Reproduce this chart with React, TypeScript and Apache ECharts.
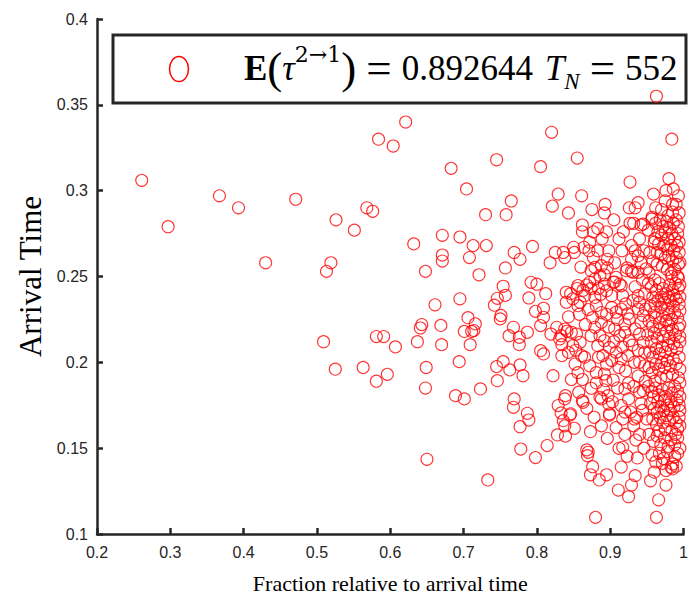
import React, { useEffect, useRef } from "react";
import * as echarts from "echarts";

// x < 0.70
const pointsLeft: number[][] = [
  [0.261,0.306],[0.297,0.279],[0.367,0.297],[0.393,0.290],[0.430,0.258],[0.471,0.295],
  [0.509,0.212],[0.513,0.253],[0.519,0.258],[0.525,0.196],[0.526,0.283],[0.551,0.277],
  [0.563,0.197],[0.568,0.290],[0.576,0.288],[0.581,0.215],[0.581,0.189],[0.584,0.330],
  [0.591,0.215],[0.596,0.193],[0.604,0.326],[0.607,0.209],[0.621,0.340],[0.632,0.269],
  [0.637,0.212],[0.641,0.220],[0.643,0.222],[0.648,0.253],[0.648,0.185],[0.649,0.197],
  [0.650,0.1435],[0.661,0.2335],[0.669,0.2215],[0.670,0.2103],[0.671,0.274],[0.671,0.2625],
  [0.671,0.259],[0.683,0.313],[0.689,0.1806],[0.694,0.2004],[0.695,0.273],[0.695,0.237],
];

// 0.70 - 0.80
const pointsMid: number[][] = [
  [0.704,0.301],[0.708,0.261],[0.713,0.268],[0.721,0.251],[0.730,0.286],[0.731,0.268],
  [0.745,0.318],[0.758,0.286],[0.765,0.294],[0.757,0.255],[0.769,0.264],[0.777,0.260],
  [0.794,0.2675],[0.706,0.226],[0.701,0.218],[0.711,0.218],[0.716,0.2224],[0.714,0.2185],
  [0.709,0.2103],[0.701,0.1787],[0.723,0.1845],[0.733,0.1315],[0.754,0.2443],[0.757,0.239],
  [0.746,0.2373],[0.742,0.2333],[0.751,0.2273],[0.750,0.2253],[0.745,0.1975],[0.746,0.1893],
  [0.754,0.2004],[0.763,0.1956],[0.777,0.1985],[0.781,0.1922],[0.768,0.2204],[0.762,0.2155],
  [0.776,0.2146],[0.776,0.2103],[0.787,0.2175],[0.769,0.1787],[0.768,0.1738],[0.787,0.1703],
  [0.789,0.1664],[0.777,0.1625],[0.778,0.1495],[0.798,0.1445],[0.792,0.2466],[0.800,0.2455],
  [0.789,0.2375],[0.798,0.2297],
];

// 0.80 - 0.85
const points80: number[][] = [
  [0.805,0.314],[0.820,0.334],[0.829,0.298],[0.821,0.291],[0.843,0.287],[0.818,0.258],
  [0.825,0.264],[0.836,0.264],[0.838,0.261],[0.812,0.240],[0.809,0.2315],[0.809,0.2262],
  [0.840,0.2408],[0.840,0.235],[0.846,0.240],[0.843,0.2265],[0.805,0.2214],[0.805,0.2068],
  [0.809,0.2049],[0.822,0.1922],[0.827,0.2204],[0.819,0.2165],[0.833,0.2155],[0.831,0.2136],
  [0.834,0.2103],[0.841,0.2181],[0.838,0.2194],[0.847,0.2175],[0.849,0.2097],[0.843,0.2058],
  [0.834,0.2039],[0.828,0.1577],[0.839,0.157],[0.838,0.163],[0.836,0.166],[0.833,0.1705],
  [0.846,0.170],[0.838,0.1787],[0.839,0.1806],[0.814,0.1515],[0.829,0.1748],[0.845,0.1693],
  [0.847,0.190],
];

// 0.85 - 0.90
const points85: number[][] = [
  [0.855,0.319],[0.861,0.297],[0.875,0.289],[0.893,0.292],[0.892,0.287],[0.862,0.280],
  [0.862,0.276],[0.877,0.276],[0.883,0.278],[0.895,0.276],[0.889,0.272],[0.864,0.267],
  [0.850,0.267],[0.851,0.264],[0.871,0.265],[0.883,0.265],[0.877,0.261],[0.896,0.260],
  [0.896,0.255],[0.872,0.270],[0.879,0.2553],[0.888,0.2563],[0.874,0.2534],[0.886,0.2505],
  [0.879,0.2485],[0.872,0.2466],[0.855,0.243],[0.868,0.245],[0.863,0.242],[0.874,0.243],
  [0.856,0.2447],[0.849,0.237],[0.856,0.233],[0.859,0.235],[0.865,0.2388],[0.870,0.2307],
  [0.879,0.2378],[0.887,0.2396],[0.895,0.2417],[0.892,0.2456],[0.881,0.233],[0.888,0.229],
  [0.895,0.228],[0.888,0.2233],[0.854,0.2165],[0.859,0.2117],[0.861,0.2039],[0.852,0.199],
  [0.872,0.198],[0.865,0.203],[0.874,0.2155],[0.879,0.2204],[0.886,0.2155],[0.892,0.2126],
  [0.883,0.2097],[0.899,0.2087],[0.890,0.2039],[0.857,0.1826],[0.863,0.1767],[0.868,0.1732],
  [0.874,0.1849],[0.881,0.188],[0.886,0.1796],[0.897,0.1806],[0.898,0.1757],[0.899,0.1693],
  [0.892,0.1932],[0.894,0.1893],[0.873,0.1596],[0.896,0.1557],[0.869,0.1456],[0.870,0.1476],
  [0.868,0.149],[0.873,0.1345],[0.885,0.1315],[0.895,0.1345],[0.876,0.1392],[0.880,0.1097],
  [0.851,0.1616],[0.862,0.1777],[0.888,0.1787],[0.899,0.170],[0.856,0.194],[0.881,0.194],
  [0.895,0.199],[0.858,0.228],[0.866,0.222],[0.876,0.226],[0.884,0.243],[0.860,0.2555],
  [0.892,0.251],[0.898,0.265],[0.898,0.2205],[0.884,0.203],[0.891,0.184],[0.878,0.168],
  [0.888,0.163],[0.862,0.190],[0.853,0.207],
];

// 0.90 - 0.95
const points90: number[][] = [
  [0.927,0.305],[0.926,0.290],[0.934,0.290],[0.938,0.293],[0.916,0.265],[0.929,0.268],
  [0.934,0.265],[0.929,0.260],[0.929,0.253],[0.923,0.255],[0.927,0.281],[0.932,0.281],
  [0.942,0.280],[0.945,0.2805],[0.938,0.262],[0.922,0.2534],[0.931,0.2524],[0.938,0.2524],
  [0.942,0.258],[0.902,0.2388],[0.906,0.2468],[0.915,0.2446],[0.904,0.2466],[0.908,0.2495],
  [0.913,0.2456],[0.917,0.2388],[0.908,0.2292],[0.915,0.231],[0.924,0.2282],[0.920,0.2223],
  [0.926,0.2253],[0.938,0.2388],[0.940,0.235],[0.947,0.240],[0.938,0.231],[0.945,0.2272],
  [0.902,0.232],[0.906,0.2194],[0.913,0.2155],[0.920,0.2175],[0.926,0.2126],[0.908,0.2058],
  [0.915,0.202],[0.924,0.2039],[0.933,0.200],[0.940,0.2165],[0.945,0.2117],[0.940,0.200],
  [0.942,0.2233],[0.947,0.2058],[0.902,0.201],[0.912,0.197],[0.920,0.1845],[0.925,0.188],
  [0.925,0.1787],[0.928,0.171],[0.933,0.167],[0.932,0.163],[0.936,0.168],[0.940,0.1826],
  [0.945,0.1835],[0.950,0.167],[0.904,0.1897],[0.915,0.1748],[0.920,0.171],[0.917,0.167],
  [0.935,0.1547],[0.912,0.1499],[0.923,0.1453],[0.937,0.1443],[0.911,0.1256],[0.925,0.1217],
  [0.929,0.1285],[0.917,0.1505],[0.921,0.195],[0.938,0.192],[0.947,0.198],
  [0.906,0.258],[0.912,0.272],[0.918,0.276],[0.905,0.283],[0.940,0.272],[0.946,0.265],
  [0.944,0.248],[0.934,0.244],[0.921,0.234],[0.931,0.236],[0.910,0.225],[0.934,0.2195],
  [0.930,0.210],[0.917,0.209],[0.938,0.207],[0.905,0.212],[0.910,0.185],[0.932,0.186],
  [0.942,0.176],[0.908,0.162],[0.940,0.158],[0.946,0.150],[0.915,0.139],[0.934,0.134],
  [0.944,0.172],[0.920,0.158],[0.948,0.189],[0.903,0.177],[0.948,0.231],[0.949,0.2545],
];

// 0.95 - 1.00
const points95: number[][] = [
  [0.963,0.355],[0.984,0.330],[0.980,0.307],[0.986,0.301],[0.976,0.300],[0.959,0.298],
  [0.985,0.292],[0.985,0.2875],[0.979,0.2855],[0.957,0.2845],[0.952,0.277],[0.957,0.2835],
  [0.954,0.264],[0.964,0.264],[0.960,0.270],[0.963,0.1097],[0.966,0.1199],[0.976,0.1285],
  [0.985,0.1408],[0.983,0.1389],[0.985,0.1379],[0.971,0.1412],
  [0.962,0.281],[0.968,0.283],[0.972,0.279],[0.977,0.282],[0.981,0.278],[0.986,0.281],
  [0.990,0.283],[0.993,0.279],[0.965,0.276],[0.970,0.274],[0.975,0.276],[0.979,0.272],
  [0.984,0.275],[0.988,0.272],[0.992,0.275],[0.994,0.270],[0.961,0.272],[0.966,0.269],
  [0.973,0.268],[0.978,0.266],[0.983,0.268],[0.987,0.265],[0.991,0.268],[0.994,0.264],
  [0.969,0.263],[0.975,0.261],[0.980,0.262],[0.985,0.259],[0.990,0.261],[0.993,0.257],
  [0.958,0.259],[0.964,0.257],[0.971,0.256],[0.978,0.254],[0.983,0.252],[0.988,0.254],
  [0.992,0.250],[0.994,0.287],[0.990,0.292],[0.970,0.289],[0.962,0.290],[0.993,0.297],
  [0.975,0.294],[0.953,0.252],[0.961,0.248],[0.956,0.244],
  [0.952,0.246],[0.958,0.238],[0.963,0.242],[0.967,0.246],[0.972,0.243],[0.976,0.240],
  [0.981,0.245],[0.985,0.242],[0.989,0.246],[0.993,0.243],[0.955,0.233],[0.960,0.229],
  [0.965,0.236],[0.969,0.232],[0.974,0.235],[0.978,0.231],[0.982,0.236],[0.986,0.233],
  [0.990,0.237],[0.994,0.234],[0.953,0.224],[0.958,0.221],[0.962,0.226],[0.967,0.223],
  [0.971,0.227],[0.976,0.224],[0.980,0.228],[0.984,0.225],[0.988,0.229],[0.992,0.226],
  [0.995,0.230],[0.970,0.238],[0.979,0.238],[0.987,0.239],[0.961,0.234],[0.993,0.249],
  [0.951,0.216],[0.956,0.212],[0.960,0.217],[0.964,0.214],[0.968,0.219],[0.972,0.215],
  [0.977,0.218],[0.981,0.214],[0.985,0.219],[0.989,0.216],[0.993,0.220],[0.954,0.206],
  [0.958,0.203],[0.963,0.208],[0.967,0.205],[0.971,0.209],[0.975,0.206],[0.979,0.210],
  [0.983,0.207],[0.987,0.211],[0.991,0.208],[0.995,0.212],[0.953,0.197],[0.957,0.194],
  [0.962,0.199],[0.966,0.196],[0.970,0.200],[0.974,0.197],[0.978,0.201],[0.982,0.198],
  [0.986,0.202],[0.990,0.199],[0.994,0.203],[0.969,0.191],[0.977,0.192],[0.985,0.193],
  [0.993,0.191],[0.961,0.189],
  [0.952,0.186],[0.957,0.183],[0.962,0.185],[0.966,0.181],[0.971,0.184],[0.975,0.180],
  [0.980,0.185],[0.984,0.182],[0.988,0.186],[0.992,0.183],[0.955,0.176],[0.960,0.173],
  [0.965,0.177],[0.969,0.174],[0.974,0.178],[0.978,0.175],[0.983,0.177],[0.987,0.174],
  [0.991,0.178],[0.994,0.175],[0.958,0.167],[0.963,0.164],[0.968,0.168],[0.972,0.165],
  [0.977,0.169],[0.981,0.166],[0.986,0.168],[0.990,0.165],[0.994,0.168],[0.966,0.160],
  [0.975,0.161],[0.984,0.160],[0.992,0.161],
  [0.953,0.158],[0.959,0.154],[0.964,0.157],[0.969,0.152],[0.974,0.156],[0.979,0.151],
  [0.983,0.155],[0.988,0.152],[0.992,0.156],[0.957,0.146],[0.962,0.142],[0.967,0.147],
  [0.973,0.144],[0.978,0.148],[0.988,0.145],[0.992,0.147],[0.960,0.136],[0.976,0.137],
  [0.990,0.1395],[0.955,0.131],
  [0.995,0.258],[0.995,0.245],[0.995,0.238],[0.995,0.222],[0.995,0.215],[0.995,0.196],
  [0.995,0.188],[0.995,0.180],[0.995,0.172],[0.995,0.163],[0.995,0.150],[0.989,0.158],
  [0.982,0.172],[0.973,0.172],[0.964,0.171],[0.959,0.180],[0.980,0.222],[0.984,0.250],
];

const xTicks = { min: 0.2, max: 1, interval: 0.1 };
const yTicks = { min: 0.1, max: 0.4, interval: 0.05 };
const xTitle = "Fraction relative to arrival time";
const yTitle = "Arrival Time";
const meanValue = "0.892644";
const countValue = "552";

export default function App() {
  const ref = useRef<HTMLDivElement>(null);
  useEffect(() => {
    if (!ref.current) return;
    const chart = echarts.init(ref.current, undefined, { renderer: "svg" });
    const data = [...pointsLeft, ...pointsMid, ...points80, ...points85, ...points90, ...points95];
    const axisColor = "#262626";
    const axisCommon = {
      type: "value" as const,
      axisLine: { show: true, lineStyle: { color: axisColor, width: 2.5 } },
      axisTick: { show: true, inside: true, length: 6, lineStyle: { color: axisColor, width: 2.5 } },
      axisLabel: { fontFamily: "Liberation Sans", fontSize: 16, color: axisColor },
      splitLine: { show: false },
    };
    const serif = "Liberation Serif";
    const nb = "\u00A0";
    chart.setOption({
      animation: false,
      backgroundColor: "#ffffff",
      grid: { left: 97, right: 5, top: 19, bottom: 64, containLabel: false },
      xAxis: {
        ...axisCommon,
        ...xTicks,
        axisLabel: { ...axisCommon.axisLabel, margin: 10 },
        name: xTitle,
        nameLocation: "middle",
        nameGap: 38,
        nameTextStyle: { fontFamily: serif, fontSize: 22, color: "#000" },
      },
      yAxis: {
        ...axisCommon,
        ...yTicks,
        axisLabel: { ...axisCommon.axisLabel, margin: 9 },
        name: yTitle,
        nameLocation: "middle",
        nameGap: 48,
        nameTextStyle: { fontFamily: serif, fontSize: 31, color: "#000" },
      },
      series: [
        {
          type: "scatter",
          data,
          symbol: "circle",
          symbolSize: 12,
          itemStyle: { color: "rgba(0,0,0,0)", borderColor: "#ff0000", borderWidth: 1.1 },
          z: 5,
        },
      ],
      graphic: [
        {
          type: "rect",
          z: 1,
          shape: { x: 113, y: 35, width: 573, height: 68 },
          style: { fill: "none", stroke: "#262626", lineWidth: 3 },
        },
        {
          type: "ellipse",
          z: 2,
          shape: { cx: 179, cy: 69, rx: 9.5, ry: 12.5 },
          style: { fill: "none", stroke: "#ff0000", lineWidth: 1.5 },
        },
        {
          type: "text",
          z: 2,
          x: 244,
          y: 68,
          style: {
            text: `{b|E}{p|(}{i|τ}{sup|2→1}{p|)}{sp|${nb}}{eq|=}{sp|${nb}}{n|${meanValue}}{sp2|${nb}}{it|T}{sub|N}{sp|${nb}}{eq|=}{sp|${nb}}{n|${countValue}}`,
            align: "left",
            verticalAlign: "middle",
            fill: "#000",
            rich: {
              b: { fontFamily: serif, fontWeight: "bold", fontSize: 35, lineHeight: 50, fill: "#000" },
              p: { fontFamily: serif, fontSize: 45, lineHeight: 50, fill: "#000" },
              i: { fontFamily: serif, fontStyle: "italic", fontSize: 35, lineHeight: 50, fill: "#000" },
              it: { fontFamily: serif, fontStyle: "italic", fontSize: 35, lineHeight: 50, fill: "#000" },
              n: { fontFamily: serif, fontSize: 35, lineHeight: 50, fill: "#000" },
              sp: { fontFamily: serif, fontSize: 40, lineHeight: 50, fill: "#000" },
              sp2: { fontFamily: serif, fontSize: 48, lineHeight: 50, fill: "#000" },
              eq: { fontFamily: serif, fontSize: 45, lineHeight: 50, fill: "#000" },
              sup: { fontFamily: "DejaVu Serif", fontSize: 22, lineHeight: 30, verticalAlign: "top", fill: "#000" },
              sub: { fontFamily: serif, fontStyle: "italic", fontSize: 23, lineHeight: 26, verticalAlign: "bottom", fill: "#000" },
            },
          },
        },
      ],
    });
    return () => chart.dispose();
  }, []);
  return (
    <div
      ref={ref}
      style={{ position: "absolute", left: 0, top: 0, width: 691, height: 599 }}
    />
  );
}
